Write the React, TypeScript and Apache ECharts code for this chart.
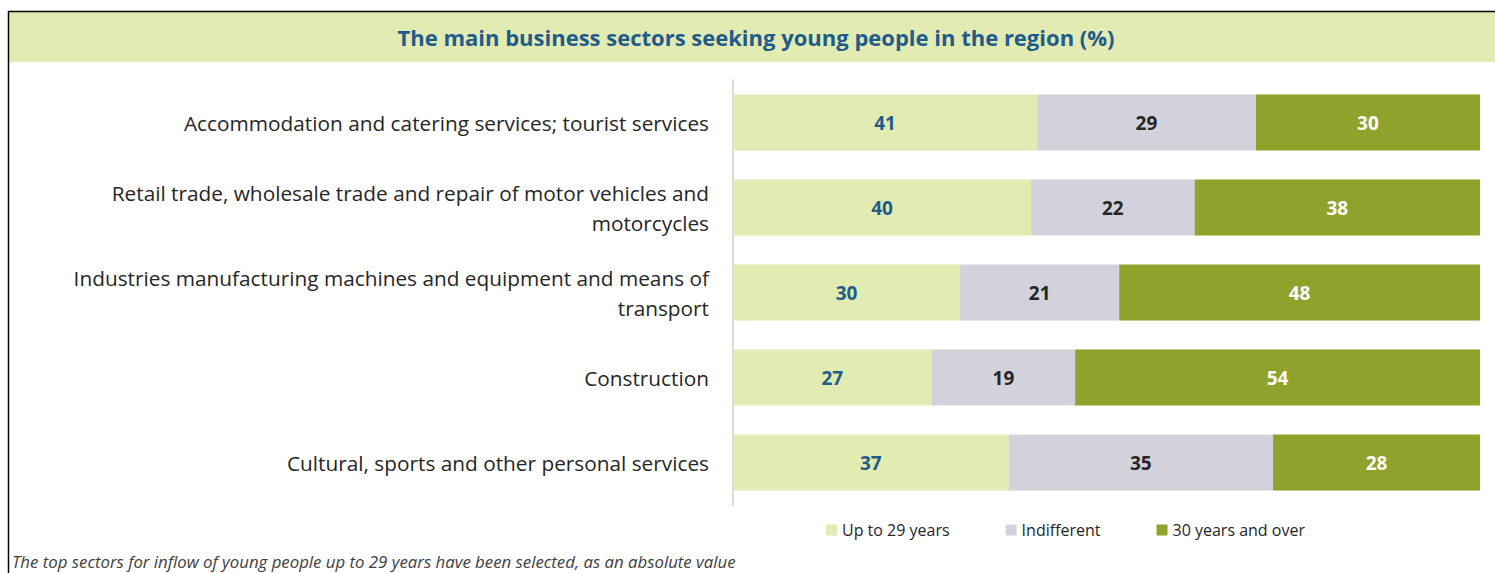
import React, { useEffect, useRef } from "react";
import * as echarts from "echarts";

const categories = [
  "Accommodation and catering services; tourist services",
  "Retail trade, wholesale trade and repair of motor vehicles and\nmotorcycles",
  "Industries manufacturing machines and equipment and means of\ntransport",
  "Construction",
  "Cultural, sports and other personal services",
];
const seriesNames = ["Up to 29 years", "Indifferent", "30 years and over"];
const upTo29 = [40.7, 39.9, 30.4, 26.6, 36.9];
const indifferent = [29.3, 21.9, 21.3, 19.2, 35.4];
const over30 = [30.0, 38.2, 48.3, 54.2, 27.7];
const titleText = "The main business sectors seeking young people in the region (%)";
const footnote = "The top sectors for inflow of young people up to 29 years have been selected, as an absolute value";

const colors = ["#E2EBB2", "#D3D2DC", "#8FA22B"];
const labelColors = ["#1F5C8B", "#262626", "#FFFFFF"];
const FONT = "'Open Sans', Lato, sans-serif";

export default function App() {
  const ref = useRef<HTMLDivElement>(null);
  useEffect(() => {
    if (!ref.current) return;
    const chart = echarts.init(ref.current, undefined, { renderer: "svg" });
    const data = [upTo29, indifferent, over30];
    chart.setOption({
      animation: false,
      textStyle: { fontFamily: FONT },
      graphic: [
        { type: "rect", shape: { x: 9, y: 12, width: 1490, height: 50 }, style: { fill: "#E2EBB2" }, silent: true },
        { type: "line", shape: { x1: 8, y1: 11.5, x2: 1495, y2: 11.5 }, style: { stroke: "#000", lineWidth: 1.5 } },
        { type: "line", shape: { x1: 8.5, y1: 11, x2: 8.5, y2: 573 }, style: { stroke: "#000", lineWidth: 1.5 } },
        {
          type: "text",
          x: 756,
          y: 37,
          style: {
            text: titleText,
            fill: "#1F5C8B",
            font: `bold 22px ${FONT}`,
            align: "center",
            verticalAlign: "middle",
          },
        },
        {
          type: "text",
          x: 12,
          y: 561,
          style: {
            text: footnote,
            fill: "#404040",
            font: `italic 16.8px ${FONT}`,
            align: "left",
            verticalAlign: "middle",
          },
        },
      ],
      legend: {
        data: seriesNames,
        left: 821,
        top: 517,
        itemWidth: 11,
        itemHeight: 11,
        itemGap: 56,
        icon: "rect",
        textStyle: { fontSize: 16, color: "#262626", fontFamily: FONT },
      },
      grid: { left: 733, right: 15, top: 80, bottom: 68, containLabel: false },
      xAxis: {
        type: "value",
        min: 0,
        max: 100,
        show: false,
      },
      yAxis: {
        type: "category",
        data: categories,
        inverse: true,
        axisLine: { show: true, lineStyle: { color: "#D9D9D9", width: 2 } },
        axisTick: { show: false },
        axisLabel: {
          fontSize: 20.8,
          color: "#262626",
          margin: 24,
          lineHeight: 30,
          align: "right",
          fontFamily: FONT,
        },
      },
      series: seriesNames.map((name, i) => ({
        name,
        type: "bar",
        stack: "total",
        data: data[i],
        barWidth: 56,
        itemStyle: { color: colors[i] },
        label: {
          show: true,
          position: "inside",
          formatter: (p: any) => String(Math.round(p.value)),
          color: labelColors[i],
          fontWeight: "bold",
          fontSize: 19,
          fontFamily: FONT,
        },
      })),
    });
    return () => chart.dispose();
  }, []);
  return (
    <div
      ref={ref}
      style={{ position: "fixed", left: 0, top: 0, width: 1495, height: 573, background: "#fff" }}
    />
  );
}
